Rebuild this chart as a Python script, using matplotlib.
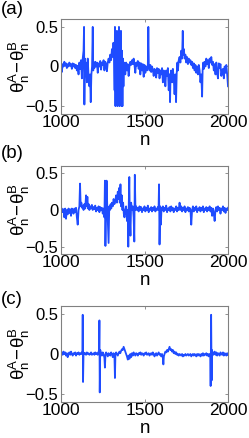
import matplotlib
matplotlib.use("Agg")
import matplotlib.pyplot as plt

plt.rcParams['font.family'] = ['Liberation Sans', 'DejaVu Sans']
plt.rcParams['mathtext.fontset'] = 'custom'
plt.rcParams['mathtext.rm'] = 'Liberation Sans'

# ---- data ----
n_a = [1000, 1005, 1010, 1015, 1020, 1025, 1030, 1035, 1040, 1045, 1050, 1055, 1060, 1065, 1070, 1075, 1080, 1085, 1090, 1095,
       1100, 1105, 1110, 1115, 1120, 1125, 1130, 1135, 1138, 1140, 1143, 1147, 1150, 1155, 1160, 1165, 1170, 1174, 1178, 1182,
       1186, 1190, 1193, 1197, 1200, 1205, 1210, 1215, 1220, 1225, 1230, 1235, 1240, 1245, 1250, 1255, 1260, 1265, 1270, 1275,
       1280, 1285, 1290, 1295, 1300, 1305, 1310, 1314, 1318, 1321, 1323, 1326, 1329, 1332, 1335, 1338, 1341, 1344, 1347, 1350,
       1353, 1356, 1359, 1362, 1365, 1368, 1371, 1374, 1377, 1380, 1385, 1390, 1395, 1400, 1405, 1410, 1415, 1420, 1425, 1430,
       1435, 1440, 1445, 1450, 1455, 1460, 1465, 1470, 1475, 1480, 1485, 1490, 1495, 1500, 1505, 1510, 1515, 1520, 1523, 1526,
       1530, 1535, 1540, 1545, 1550, 1555, 1560, 1565, 1570, 1575, 1580, 1585, 1590, 1595, 1600, 1605, 1610, 1615, 1620, 1625,
       1630, 1635, 1640, 1645, 1650, 1653, 1656, 1660, 1665, 1670, 1675, 1680, 1685, 1689, 1693, 1697, 1700, 1705, 1710, 1715,
       1720, 1725, 1729, 1732, 1736, 1740, 1745, 1750, 1755, 1760, 1765, 1770, 1775, 1780, 1785, 1790, 1795, 1800, 1805, 1810,
       1815, 1820, 1825, 1830, 1835, 1840, 1845, 1848, 1852, 1856, 1860, 1865, 1870, 1875, 1880, 1885, 1890, 1895, 1900, 1905,
       1910, 1915, 1920, 1925, 1930, 1935, 1940, 1945, 1950, 1955, 1960, 1965, 1970, 1975, 1980, 1985, 1990, 1995, 2000]
v_a = [0.02, -0.07, 0.03, 0.0, 0.06, 0.01, 0.04, -0.02, 0.03, 0.0, 0.05, 0.01, 0.03, -0.03, 0.04, 0.0, 0.03, -0.02, 0.02, -0.05,
       0.01, -0.1, 0.05, -0.03, 0.08, -0.15, 0.1, 0.2, 0.5, -0.48, 0.1, -0.05, 0.05, -0.2, 0.1, -0.12, -0.25, -0.1, -0.45, -0.1,
       0.0, 0.5, -0.05, 0.05, -0.02, 0.06, 0.0, 0.05, -0.08, 0.04, 0.0, 0.07, -0.04, 0.05, 0.02, 0.08, -0.05, 0.06, 0.03, -0.06,
       0.05, 0.1, 0.05, 0.15, 0.08, 0.22, 0.12, 0.3, 0.1, -0.3, 0.5, -0.5, 0.3, -0.45, 0.45, -0.5, 0.35, -0.3, 0.5, -0.5,
       0.3, -0.45, 0.45, -0.5, 0.2, -0.5, 0.1, -0.25, 0.05, 0.0, -0.1, 0.05, -0.05, 0.03, -0.12, 0.0, 0.06, 0.02, 0.08, 0.03,
       0.1, 0.02, -0.08, 0.05, 0.01, 0.07, -0.03, 0.05, -0.1, 0.04, -0.05, 0.03, -0.13, 0.02, -0.08, 0.0, -0.05, 0.02, 0.5, 0.0,
       -0.05, 0.02, -0.07, 0.0, -0.04, -0.12, -0.03, -0.06, -0.14, -0.02, -0.08, -0.03, -0.15, -0.05, -0.1, -0.02, -0.2, -0.05, -0.08, -0.25,
       -0.05, -0.12, -0.02, -0.3, -0.1, -0.45, -0.1, -0.05, -0.2, -0.03, -0.15, -0.35, -0.1, -0.45, -0.08, 0.05, -0.05, 0.08, 0.12, 0.05,
       0.2, 0.1, 0.45, 0.15, 0.22, 0.1, 0.15, 0.05, 0.12, 0.03, 0.1, 0.05, 0.08, 0.02, 0.06, -0.02, 0.04, -0.05, 0.02, -0.08,
       0.0, -0.1, 0.02, -0.05, -0.2, -0.1, -0.38, -0.05, 0.05, -0.03, 0.06, 0.0, 0.1, 0.03, 0.08, -0.02, 0.1, 0.05, 0.12, 0.02,
       0.06, -0.05, 0.03, -0.1, 0.05, -0.08, -0.15, 0.04, -0.02, 0.03, -0.12, -0.05, -0.03, -0.15, 0.0, -0.08, 0.02, -0.1, -0.25]

n_b = [1000, 1005, 1010, 1015, 1020, 1025, 1030, 1035, 1040, 1045, 1050, 1055, 1060, 1065, 1070, 1075, 1080, 1085, 1090, 1095,
       1100, 1105, 1110, 1114, 1118, 1122, 1126, 1130, 1135, 1140, 1145, 1150, 1154, 1158, 1162, 1166, 1170, 1175, 1180, 1185,
       1190, 1195, 1200, 1205, 1210, 1215, 1220, 1225, 1230, 1235, 1240, 1245, 1250, 1255, 1260, 1263, 1266, 1270, 1273, 1277,
       1281, 1285, 1289, 1293, 1297, 1301, 1305, 1310, 1315, 1320, 1325, 1330, 1335, 1340, 1344, 1348, 1352, 1356, 1360, 1364,
       1368, 1372, 1376, 1380, 1385, 1390, 1395, 1400, 1403, 1406, 1409, 1412, 1416, 1420, 1425, 1430, 1435, 1439, 1442, 1446,
       1450, 1455, 1460, 1465, 1470, 1475, 1480, 1485, 1490, 1495, 1500, 1505, 1510, 1515, 1520, 1525, 1530, 1535, 1540, 1545,
       1550, 1555, 1560, 1565, 1570, 1575, 1580, 1584, 1587, 1590, 1594, 1598, 1602, 1606, 1610, 1615, 1620, 1625, 1630, 1635,
       1640, 1645, 1650, 1655, 1660, 1665, 1670, 1675, 1680, 1685, 1690, 1695, 1700, 1705, 1710, 1715, 1720, 1725, 1730, 1735,
       1740, 1745, 1750, 1755, 1760, 1765, 1770, 1775, 1780, 1785, 1790, 1795, 1800, 1805, 1810, 1815, 1820, 1825, 1830, 1835,
       1840, 1845, 1850, 1855, 1860, 1865, 1870, 1875, 1880, 1885, 1890, 1895, 1900, 1905, 1910, 1915, 1920, 1925, 1930, 1935,
       1940, 1945, 1950, 1955, 1960, 1965, 1970, 1975, 1980, 1985, 1990, 1995, 2000]
v_b = [0.0, 0.02, -0.03, 0.01, -0.1, 0.02, -0.12, 0.0, -0.06, 0.02, -0.04, 0.01, -0.08, 0.02, 0.0, -0.05, 0.02, -0.03, 0.03, -0.1,
       -0.2, 0.0, 0.05, 0.36, 0.05, 0.1, 0.03, 0.06, 0.0, 0.08, 0.02, 0.2, 0.05, 0.18, 0.02, 0.08, 0.0, 0.05, 0.02, 0.07,
       0.0, 0.04, 0.01, 0.06, -0.02, 0.03, 0.0, 0.05, -0.03, 0.04, 0.0, 0.03, -0.05, 0.02, -0.1, 0.4, -0.49, 0.1, 0.4, 0.05,
       -0.2, -0.45, 0.05, 0.0, 0.08, 0.02, 0.1, 0.05, 0.15, 0.08, 0.12, 0.2, 0.1, 0.25, 0.15, 0.3, 0.1, 0.35, 0.05, 0.2,
       0.0, 0.1, -0.05, -0.1, 0.0, 0.05, -0.15, 0.0, -0.5, 0.1, 0.45, -0.1, -0.35, 0.1, 0.0, 0.05, -0.1, -0.43, 0.48, 0.0,
       0.05, 0.0, 0.03, -0.02, 0.05, 0.0, 0.04, -0.03, 0.02, 0.0, 0.05, -0.02, 0.03, 0.0, 0.06, -0.03, 0.02, 0.0, 0.04, -0.02,
       0.03, 0.0, 0.05, -0.02, 0.02, 0.0, 0.04, 0.0, 0.35, -0.47, 0.05, -0.2, 0.03, 0.0, 0.05, -0.02, 0.03, 0.0, 0.06, -0.03,
       0.02, 0.0, 0.04, -0.02, 0.05, 0.0, 0.03, -0.03, 0.02, 0.0, 0.05, -0.02, 0.03, 0.0, 0.1, 0.0, 0.05, -0.02, 0.03, 0.0,
       0.05, -0.03, 0.02, 0.0, 0.04, -0.02, 0.03, 0.0, -0.2, 0.0, 0.05, -0.02, 0.03, 0.0, 0.05, -0.03, 0.02, 0.0, 0.04, -0.02,
       0.03, 0.0, 0.05, -0.03, 0.02, 0.0, 0.04, -0.02, 0.03, 0.0, 0.05, -0.02, 0.03, -0.08, 0.02, -0.05, -0.15, 0.0, 0.04, -0.02,
       0.05, 0.0, 0.03, -0.05, 0.02, 0.0, 0.05, -0.02, 0.03, -0.04, 0.02, 0.0, 0.03]

n_c = [1000, 1005, 1010, 1015, 1020, 1025, 1030, 1035, 1040, 1045, 1050, 1055, 1060, 1065, 1070, 1075, 1080, 1085, 1090, 1095,
       1100, 1105, 1110, 1115, 1120, 1125, 1128, 1130, 1132, 1135, 1140, 1145, 1150, 1155, 1160, 1165, 1170, 1175, 1180, 1185,
       1190, 1195, 1200, 1205, 1210, 1215, 1220, 1225, 1228, 1230, 1232, 1235, 1240, 1245, 1250, 1255, 1260, 1263, 1266, 1270,
       1275, 1280, 1285, 1290, 1295, 1300, 1305, 1310, 1315, 1320, 1323, 1326, 1330, 1335, 1340, 1345, 1350, 1355, 1360, 1365,
       1370, 1375, 1380, 1385, 1390, 1395, 1400, 1405, 1410, 1415, 1420, 1425, 1430, 1435, 1440, 1445, 1450, 1455, 1460, 1465,
       1470, 1475, 1480, 1485, 1490, 1495, 1500, 1505, 1510, 1515, 1520, 1525, 1530, 1535, 1540, 1545, 1550, 1555, 1560, 1565,
       1570, 1575, 1580, 1585, 1590, 1595, 1600, 1605, 1610, 1613, 1616, 1620, 1625, 1630, 1635, 1640, 1645, 1650, 1655, 1660,
       1665, 1670, 1675, 1680, 1685, 1690, 1695, 1700, 1705, 1710, 1715, 1720, 1725, 1730, 1735, 1740, 1745, 1750, 1755, 1760,
       1765, 1770, 1775, 1780, 1785, 1790, 1795, 1800, 1805, 1810, 1815, 1820, 1825, 1830, 1835, 1840, 1845, 1850, 1855, 1860,
       1865, 1870, 1875, 1880, 1885, 1890, 1894, 1896, 1899, 1902, 1904, 1907, 1910, 1915, 1920, 1925, 1930, 1935, 1940, 1945,
       1950, 1955, 1960, 1965, 1970, 1975, 1980, 1985, 1990, 1995, 2000]
v_c = [0.0, 0.02, -0.01, 0.03, 0.0, 0.02, -0.02, 0.01, -0.04, 0.0, 0.02, -0.01, 0.03, 0.0, -0.02, 0.01, 0.0, 0.02, -0.02, 0.01,
       0.0, 0.02, -0.01, 0.01, 0.0, 0.02, 0.0, 0.49, -0.35, 0.02, 0.0, 0.01, -0.01, 0.02, 0.0, 0.01, -0.01, 0.0, 0.02, -0.01,
       0.0, 0.01, -0.01, 0.02, 0.0, 0.01, -0.01, 0.03, 0.05, 0.42, -0.48, 0.05, 0.0, -0.02, 0.02, 0.0, -0.05, -0.17, -0.02, 0.02,
       0.0, -0.03, 0.01, 0.0, -0.02, 0.02, 0.0, -0.04, 0.01, -0.02, -0.3, 0.0, 0.02, 0.0, -0.02, 0.01, 0.03, 0.01, 0.04, 0.06,
       0.05, 0.09, 0.06, 0.03, 0.0, -0.03, -0.07, -0.02, -0.06, 0.0, -0.04, 0.01, -0.02, 0.02, 0.0, -0.02, 0.01, 0.0, -0.02, 0.01,
       0.0, 0.02, -0.01, 0.01, 0.0, -0.02, 0.01, 0.0, 0.02, -0.01, 0.0, 0.01, -0.02, 0.0, 0.01, -0.01, 0.02, 0.0, -0.03, 0.0,
       0.01, -0.02, 0.0, 0.02, -0.01, 0.0, -0.03, 0.0, -0.05, -0.13, -0.03, 0.0, 0.03, 0.02, 0.05, 0.03, 0.06, 0.09, 0.05, 0.06,
       0.03, 0.05, 0.01, 0.03, 0.0, 0.02, -0.01, 0.0, -0.02, 0.0, -0.01, -0.02, 0.0, -0.03, -0.01, -0.02, 0.0, -0.02, -0.01, 0.0,
       -0.02, -0.01, 0.0, -0.03, -0.01, 0.0, -0.02, 0.0, -0.01, -0.03, 0.0, -0.02, 0.0, -0.01, -0.03, 0.0, -0.02, 0.01, -0.02, 0.0,
       -0.01, 0.01, -0.02, 0.0, -0.03, 0.0, -0.02, -0.4, 0.49, -0.33, 0.05, -0.02, 0.02, 0.0, 0.03, -0.01, 0.02, -0.02, 0.01, 0.0,
       -0.02, 0.02, 0.0, -0.01, 0.02, -0.02, 0.01, 0.0, -0.02, 0.01, -0.01]

panel_labels = ['(a)', '(b)', '(c)']
series = [(n_a, v_a), (n_b, v_b), (n_c, v_c)]
x_ticks = [1000, 1500, 2000]
y_ticks = [-0.5, 0, 0.5]
y_ticklabels = ['\u22120.5', '0', '0.5']

W, H = 249, 438
fig = plt.figure(figsize=(W / 100, H / 100), dpi=100)

# axes boxes in pixels: (left, top, right, bottom)
boxes = [(61, 19, 228, 114), (61, 166, 228, 254), (61, 306, 228, 402)]
label_y = [9, 153, 299]

line_color = '#1f4cff'
spine_color = '#808080'

for (nn, vv), (l, t, r, b), lab, ly in zip(series, boxes, panel_labels, label_y):
    m = min(len(nn), len(vv))
    hpx = b - t
    wpx = r - l
    ax = fig.add_axes([l / W, 1 - b / H, wpx / W, hpx / H])
    ax.plot(nn[:m], vv[:m], color=line_color, lw=1.3)
    ax.set_xlim(1000, 2000)
    ax.set_ylim(-0.6, 0.6)
    ax.set_xticks(x_ticks)
    ax.set_yticks(y_ticks)
    ax.set_yticklabels(y_ticklabels)
    ax.tick_params(direction='in', length=2.5, width=0.6, colors=spine_color,
                   labelcolor='black', top=True, right=True, pad=2)
    ax.tick_params(axis='x', labelsize=12.5, pad=1)
    ax.tick_params(axis='y', labelsize=12)
    for s in ax.spines.values():
        s.set_color(spine_color)
        s.set_linewidth(0.8)
    ax.set_xlabel(r'$\mathregular{n}$', fontsize=13.5)
    ax.xaxis.label.set_va('baseline')
    ax.xaxis.set_label_coords(0.5, -31 / hpx)
    ax.set_ylabel(r'$\mathregular{\theta_n^A\!-\!\theta_n^B}$', fontsize=13.5)
    ax.yaxis.set_label_coords(-29 / wpx, 0.5)
    fig.text(1 / W, 1 - ly / H, lab, fontsize=13.5, ha='left', va='center')

fig.savefig('out.png', dpi=100)
